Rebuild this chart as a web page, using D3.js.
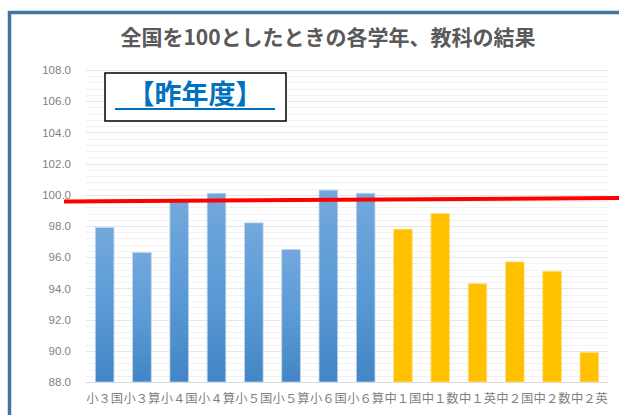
<!DOCTYPE html>
<html>
<head>
<meta charset="utf-8">
<script src="https://cdn.jsdelivr.net/npm/d3@7"></script>
<style>
  html, body { margin: 0; padding: 0; background: #ffffff; }
  svg { display: block; }
</style>
</head>
<body>
<div id="chart"></div>
<script>
// categories and values
const categories = ['小３国', '小３算', '小４国', '小４算', '小５国', '小５算', '小６国', '小６算',
                    '中１国', '中１数', '中１英', '中２国', '中２数', '中２英'];
const values = [97.9, 96.3, 99.6, 100.1, 98.2, 96.5, 100.3, 100.1,
                97.8, 98.8, 94.3, 95.7, 95.1, 89.9];
const school = ['小', '小', '小', '小', '小', '小', '小', '小',
                '中', '中', '中', '中', '中', '中'];
const yTicks = [88, 90, 92, 94, 96, 98, 100, 102, 104, 106, 108];
// red reference line, value at left end and right end
const redLine = [99.57, 99.79];

const title = '全国を100としたときの各学年、教科の結果';
const boxLabel = '【昨年度】';

const width = 619;
const height = 415;
const margin = { top: 70, right: 11, bottom: 33, left: 86 };

const svg = d3.select('#chart')
    .append('svg')
    .attr('width', width)
    .attr('height', height);

const defs = svg.append('defs');
const grad = defs.append('linearGradient')
    .attr('id', 'blueGrad')
    .attr('x1', 0).attr('y1', 0)
    .attr('x2', 0).attr('y2', 1);
grad.append('stop').attr('offset', '0%').attr('stop-color', '#73a8dd');
grad.append('stop').attr('offset', '50%').attr('stop-color', '#5b9bd5');
grad.append('stop').attr('offset', '100%').attr('stop-color', '#4385c5');

// outer frame (runs off right and bottom)
svg.append('rect')
    .attr('x', 9.5)
    .attr('y', 12.5)
    .attr('width', 700)
    .attr('height', 500)
    .attr('fill', '#ffffff')
    .attr('stroke', '#4673a6')
    .attr('stroke-width', 3.5);

const x = d3.scaleBand()
    .domain(categories)
    .range([margin.left, width - margin.right])
    .paddingInner(0.5)
    .paddingOuter(0.25);

const y = d3.scaleLinear()
    .domain([88, 108])
    .range([height - margin.bottom, margin.top]);

// minor gridlines
const minorTicks = d3.range(88, 108.01, 0.4).filter(v => Math.abs(v / 2 - Math.round(v / 2)) > 0.01);
svg.append('g')
    .selectAll('line')
    .data(minorTicks)
    .enter()
    .append('line')
    .attr('x1', margin.left)
    .attr('x2', width - margin.right)
    .attr('y1', d => Math.round(y(d)) + 0.5)
    .attr('y2', d => Math.round(y(d)) + 0.5)
    .attr('stroke', '#f2f2f2')
    .attr('stroke-width', 1);

// major gridlines
svg.append('g')
    .selectAll('line')
    .data(yTicks)
    .enter()
    .append('line')
    .attr('x1', margin.left)
    .attr('x2', width - margin.right)
    .attr('y1', d => Math.round(y(d)) + 0.5)
    .attr('y2', d => Math.round(y(d)) + 0.5)
    .attr('stroke', d => d === 88 ? '#d9d9d9' : '#e3e6ea')
    .attr('stroke-width', 1);

// y axis labels
const yAxis = d3.axisLeft(y)
    .tickValues(yTicks)
    .tickSize(0)
    .tickPadding(15)
    .tickFormat(d3.format('.1f'));

const yAxisG = svg.append('g')
    .attr('transform', `translate(${margin.left},0)`)
    .call(yAxis);
yAxisG.select('.domain').remove();
yAxisG.selectAll('text')
    .attr('fill', '#7f7f7f')
    .style('font-size', '11.5px')
    .style('font-family', '"Liberation Sans", Arial, sans-serif');

// x axis labels
const xAxis = d3.axisBottom(x).tickSize(0).tickPadding(12);
const xAxisG = svg.append('g')
    .attr('transform', `translate(0,${height - margin.bottom})`)
    .call(xAxis);
xAxisG.select('.domain').remove();
xAxisG.selectAll('text')
    .attr('fill', '#7f7f7f')
    .style('font-size', '12.3px')
    .style('font-family', '"Noto Sans CJK JP", sans-serif');

// bars
svg.append('g')
    .selectAll('rect')
    .data(categories)
    .enter()
    .append('rect')
    .attr('x', d => x(d))
    .attr('width', x.bandwidth())
    .attr('y', (d, i) => y(values[i]))
    .attr('height', (d, i) => y(88) - y(values[i]))
    .attr('fill', (d, i) => school[i] === '小' ? 'url(#blueGrad)' : '#ffc000')
    .attr('stroke', (d, i) => school[i] === '小' ? '#bdd7ee' : '#ffe08a')
    .attr('stroke-width', 0.8);

// red reference line
svg.append('line')
    .attr('x1', margin.left - 22)
    .attr('x2', width)
    .attr('y1', y(redLine[0]))
    .attr('y2', y(redLine[1]))
    .attr('stroke', '#ff0000')
    .attr('stroke-width', 4)
    .attr('stroke-linecap', 'butt');

// title
svg.append('text')
    .attr('x', 328)
    .attr('y', 45)
    .attr('text-anchor', 'middle')
    .attr('fill', '#595959')
    .style('font-size', '21px')
    .style('font-weight', 'bold')
    .style('font-family', '"Noto Sans CJK JP", sans-serif')
    .text(title);

// label box
const box = svg.append('g').attr('transform', 'translate(105,73)');
box.append('rect')
    .attr('width', 181)
    .attr('height', 48)
    .attr('fill', '#ffffff')
    .attr('stroke', '#000000')
    .attr('stroke-width', 1.5);
box.append('text')
    .attr('x', 90)
    .attr('y', 31)
    .attr('text-anchor', 'middle')
    .attr('fill', '#0070c0')
    .style('font-size', '27px')
    .style('font-weight', 'bold')
    .style('font-family', '"Noto Sans CJK JP", sans-serif')
    .text(boxLabel);
box.append('line')
    .attr('x1', 10)
    .attr('x2', 170)
    .attr('y1', 36)
    .attr('y2', 36)
    .attr('stroke', '#0070c0')
    .attr('stroke-width', 2);
</script>
</body>
</html>
